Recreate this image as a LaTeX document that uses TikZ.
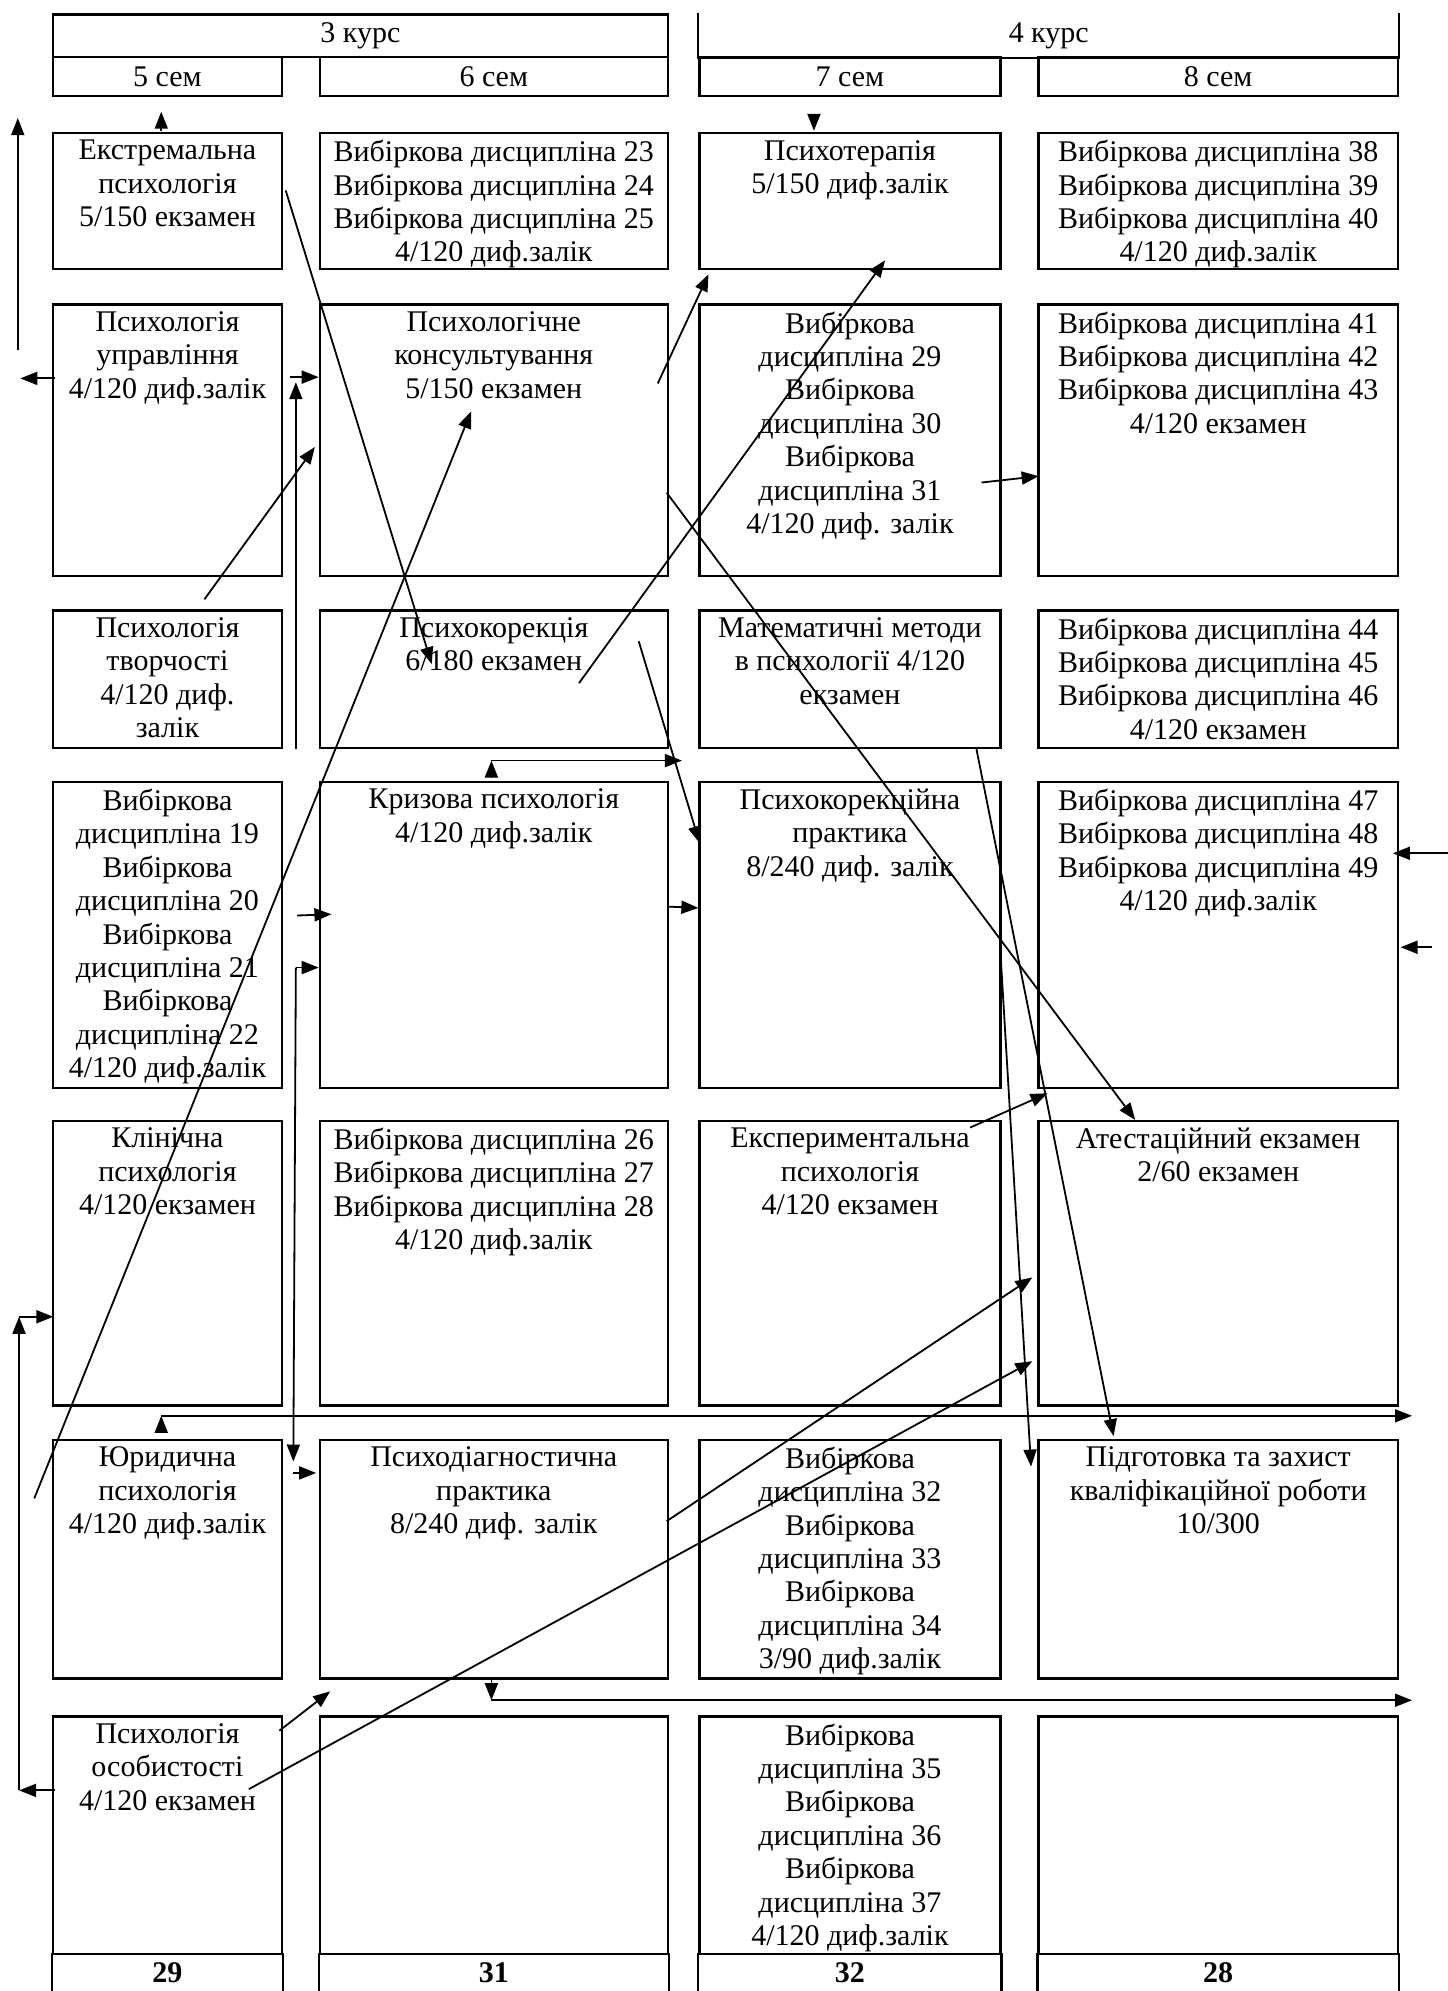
\documentclass[tikz,border=0pt]{standalone}
\usepackage{fontspec}
\setmainfont{Liberation Serif}
\usetikzlibrary{arrows.meta}
\newcommand{\cellbox}[3]{\parbox[c][#2][t]{#1}{\centering\vspace*{3.5pt}#3}}

\begin{document}
\begin{tikzpicture}[x=0.635pt,y=-0.635pt,
	font=\fontsize{15}{16.7}\selectfont,
	>={Triangle[length=8.5pt,width=6.5pt]},
	cell/.style={draw,line width=1.1pt,inner sep=0pt,anchor=north west},
	head/.style={draw,line width=1.1pt,inner sep=0pt,anchor=north west},
	total/.style={head,draw=none,minimum height=19pt,font=\fontsize{15}{16.7}\selectfont\bfseries},
	link/.style={->,line width=0.9pt}]
	\useasboundingbox (0,0) rectangle (1140,1568);

	\node[head,minimum width=307.3pt,minimum height=21.3pt] (k3) at (41,10.5) {3 курс};
	\node[head,draw=none,minimum width=349.3pt,minimum height=21.3pt] (k4) at (550,10.5) {4 курс};
	\draw[line width=1.1pt] (k4.north west) -- (k4.south west) -- (k4.south east) -- (k4.north east);
	\node[head,minimum width=114.3pt,minimum height=19.7pt] (s5) at (41,44) {5 сем};
	\node[head,minimum width=174pt,minimum height=19.7pt] (s6) at (251,44) {6 сем};
	\node[head,minimum width=150.5pt,minimum height=19.7pt] (s7) at (550,44) {7 сем};
	\node[head,minimum width=179.7pt,minimum height=19.7pt] (s8) at (817,44) {8 сем};

	\node[cell] (11) at (41,104) {\cellbox{114.3pt}{67.9pt}{Екстремальна\\психологія\\5/150 екзамен}};
	\node[cell] (12) at (251,104) {\cellbox{174pt}{67.9pt}{Вибіркова дисципліна 23\\Вибіркова дисципліна 24\\Вибіркова дисципліна 25\\4/120 диф.залік}};
	\node[cell] (13) at (550,104) {\cellbox{150.5pt}{67.9pt}{Психотерапія\\5/150 диф.залік}};
	\node[cell] (14) at (817,104) {\cellbox{179.7pt}{67.9pt}{Вибіркова дисципліна 38\\Вибіркова дисципліна 39\\Вибіркова дисципліна 40\\4/120 диф.залік}};

	\node[cell] (21) at (41,239) {\cellbox{114.3pt}{135.9pt}{Психологія\\управління\\4/120 диф.залік}};
	\node[cell] (22) at (251,239) {\cellbox{174pt}{135.9pt}{Психологічне\\консультування\\5/150 екзамен}};
	\node[cell] (23) at (550,239) {\cellbox{150.5pt}{135.9pt}{Вибіркова\\дисципліна 29\\Вибіркова\\дисципліна 30\\Вибіркова\\дисципліна 31\\4/120 диф. залік}};
	\node[cell] (24) at (817,239) {\cellbox{179.7pt}{135.9pt}{Вибіркова дисципліна 41\\Вибіркова дисципліна 42\\Вибіркова дисципліна 43\\4/120 екзамен}};

	\node[cell] (31) at (41,480) {\cellbox{114.3pt}{68.6pt}{Психологія\\творчості\\4/120 диф.\\залік}};
	\node[cell] (32) at (251,480) {\cellbox{174pt}{68.6pt}{Психокорекція\\6/180 екзамен}};
	\node[cell] (33) at (550,480) {\cellbox{150.5pt}{68.6pt}{Математичні методи\\в психології 4/120\\екзамен}};
	\node[cell] (34) at (817,480) {\cellbox{179.7pt}{68.6pt}{Вибіркова дисципліна 44\\Вибіркова дисципліна 45\\Вибіркова дисципліна 46\\4/120 екзамен}};

	\node[cell] (41) at (41,615) {\cellbox{114.3pt}{153pt}{Вибіркова\\дисципліна 19\\Вибіркова\\дисципліна 20\\Вибіркова\\дисципліна 21\\Вибіркова\\дисципліна 22\\4/120 диф.залік}};
	\node[cell] (42) at (251,615) {\cellbox{174pt}{153pt}{Кризова психологія\\4/120 диф.залік}};
	\node[cell] (43) at (550,615) {\cellbox{150.5pt}{153pt}{Психокорекційна\\практика\\8/240 диф. залік}};
	\node[cell] (44) at (817,615) {\cellbox{179.7pt}{153pt}{Вибіркова дисципліна 47\\Вибіркова дисципліна 48\\Вибіркова дисципліна 49\\4/120 диф.залік}};

	\node[cell] (51) at (41,882) {\cellbox{114.3pt}{142.2pt}{Клінічна\\психологія\\4/120 екзамен}};
	\node[cell] (52) at (251,882) {\cellbox{174pt}{142.2pt}{Вибіркова дисципліна 26\\Вибіркова дисципліна 27\\Вибіркова дисципліна 28\\4/120 диф.залік}};
	\node[cell] (53) at (550,882) {\cellbox{150.5pt}{142.2pt}{Експериментальна\\психологія\\4/120 екзамен}};
	\node[cell] (54) at (817,882) {\cellbox{179.7pt}{142.2pt}{Атестаційний екзамен\\2/60 екзамен}};

	\node[cell] (61) at (41,1133) {\cellbox{114.3pt}{119.4pt}{Юридична\\психологія\\4/120 диф.залік}};
	\node[cell] (62) at (251,1133) {\cellbox{174pt}{119.4pt}{Психодіагностична\\практика\\8/240 диф. залік}};
	\node[cell] (63) at (550,1133) {\cellbox{150.5pt}{119.4pt}{Вибіркова\\дисципліна 32\\Вибіркова\\дисципліна 33\\Вибіркова\\дисципліна 34\\3/90 диф.залік}};
	\node[cell] (64) at (817,1133) {\cellbox{179.7pt}{119.4pt}{Підготовка та захист\\кваліфікаційної роботи\\10/300}};

	\node[cell] (71) at (41,1351) {\cellbox{114.3pt}{118.7pt}{Психологія\\особистості\\4/120 екзамен}};
	\node[cell,minimum width=174pt,minimum height=118.7pt] (72) at (251,1351) {};
	\node[cell] (73) at (550,1351) {\cellbox{150.5pt}{118.7pt}{Вибіркова\\дисципліна 35\\Вибіркова\\дисципліна 36\\Вибіркова\\дисципліна 37\\4/120 диф.залік}};
	\node[cell,minimum width=179.7pt,minimum height=118.7pt] (74) at (817,1351) {};

	\node[total,minimum width=114.3pt] (t5) at (41,1538) {29};
	\node[total,minimum width=174pt] (t6) at (251,1538) {31};
	\node[total,minimum width=150.5pt] (t7) at (550,1538) {32};
	\node[total,minimum width=179.7pt] (t8) at (817,1538) {28};
	\draw[line width=1.1pt] (t5.north west) -- (t5.south west) (t5.north east) -- (t5.south east);
	\draw[line width=1.1pt] (t6.north west) -- (t6.south west) (t6.north east) -- (t6.south east);
	\draw[line width=1.1pt] (t7.north west) -- (t7.south west) (t7.north east) -- (t7.south east);
	\draw[line width=1.1pt] (t8.north west) -- (t8.south west) (t8.north east) -- (t8.south east);

	\coordinate (p1) at (14,276);
	\coordinate (q1) at (14,93);
	\coordinate (p2) at (43,298);
	\coordinate (q2) at (16,298);
	\coordinate (p3) at (127,103);
	\coordinate (q3) at (127,88);
	\coordinate (p4) at (641,90);
	\coordinate (q4) at (641,103);
	\coordinate (p5) at (225,150);
	\coordinate (q5) at (340,523);
	\coordinate (p6) at (518,302);
	\coordinate (q6) at (558,216);
	\coordinate (p7) at (456,538);
	\coordinate (q7) at (697,205);
	\coordinate (p8) at (228,297);
	\coordinate (q8) at (251,297);
	\coordinate (p9) at (233,590);
	\coordinate (q9) at (233,301);
	\coordinate (p10) at (161,472);
	\coordinate (q10) at (248,352);
	\coordinate (p11) at (27,1180);
	\coordinate (q11) at (371,324);
	\coordinate (p12) at (525,388);
	\coordinate (q12) at (894,882);
	\coordinate (p13) at (773,380);
	\coordinate (q13) at (818,375);
	\coordinate (p14) at (503,505);
	\coordinate (q14) at (551,664);
	\coordinate (p15) at (387,613);
	\coordinate (c15) at (387,599);
	\coordinate (q15) at (537,599);
	\coordinate (p16) at (234,721);
	\coordinate (q16) at (261,720);
	\coordinate (c17) at (233,762);
	\coordinate (q17) at (251,762);
	\coordinate (r17) at (231,1151);
	\coordinate (p18) at (231,1160);
	\coordinate (q18) at (249,1160);
	\coordinate (p19) at (526,714);
	\coordinate (q19) at (550,715);
	\coordinate (p20) at (769,590);
	\coordinate (q20) at (877,1131);
	\coordinate (p21) at (788,752);
	\coordinate (q21) at (812,1155);
	\coordinate (p22) at (764,888);
	\coordinate (q22) at (825,861);
	\coordinate (p23) at (525,1198);
	\coordinate (q23) at (813,1006);
	\coordinate (p24) at (196,1409);
	\coordinate (q24) at (813,1072);
	\coordinate (p25) at (220,1363);
	\coordinate (q25) at (260,1332);
	\coordinate (p26) at (43,1410);
	\coordinate (c26) at (15,1410);
	\coordinate (d26) at (15,1037);
	\coordinate (q26) at (42,1037);
	\coordinate (p27) at (127,1128);
	\coordinate (c27) at (127,1115);
	\coordinate (q27) at (1112,1115);
	\coordinate (p28) at (387,1321);
	\coordinate (c28) at (387,1339);
	\coordinate (q28) at (1112,1339);
	\coordinate (p29) at (1140,672);
	\coordinate (q29) at (1097,672);
	\coordinate (p30) at (1128,746);
	\coordinate (q30) at (1103,746);

	\draw[link] (p1) -- (q1);
	\draw[link] (p2) -- (q2);
	\draw[link] (p3) -- (q3);
	\draw[link] (p4) -- (q4);
	\draw[link] (p5) -- (q5);
	\draw[link] (p6) -- (q6);
	\draw[link] (p7) -- (q7);
	\draw[link] (p8) -- (q8);
	\draw[link] (p9) -- (q9);
	\draw[link] (p10) -- (q10);
	\draw[link] (p11) -- (q11);
	\draw[link] (p12) -- (q12);
	\draw[link] (p13) -- (q13);
	\draw[link] (p14) -- (q14);
	\draw[link] (p15) -- (c15);
	\draw[link] (c15) -- (q15);
	\draw[link] (p16) -- (q16);
	\draw[link] (c17) -- (q17);
	\draw[link] (c17) -- (r17);
	\draw[link] (p18) -- (q18);
	\draw[link] (p19) -- (q19);
	\draw[link] (p20) -- (q20);
	\draw[link] (p21) -- (q21);
	\draw[link] (p22) -- (q22);
	\draw[link] (p23) -- (q23);
	\draw[link] (p24) -- (q24);
	\draw[link] (p25) -- (q25);
	\draw[link] (p26) -- (c26);
	\draw[link] (c26) -- (d26);
	\draw[link] (d26) -- (q26);
	\draw[link] (p27) -- (c27);
	\draw[link] (c27) -- (q27);
	\draw[link] (p28) -- (c28);
	\draw[link] (c28) -- (q28);
	\draw[link] (p29) -- (q29);
	\draw[link] (p30) -- (q30);
\end{tikzpicture}
\end{document}
